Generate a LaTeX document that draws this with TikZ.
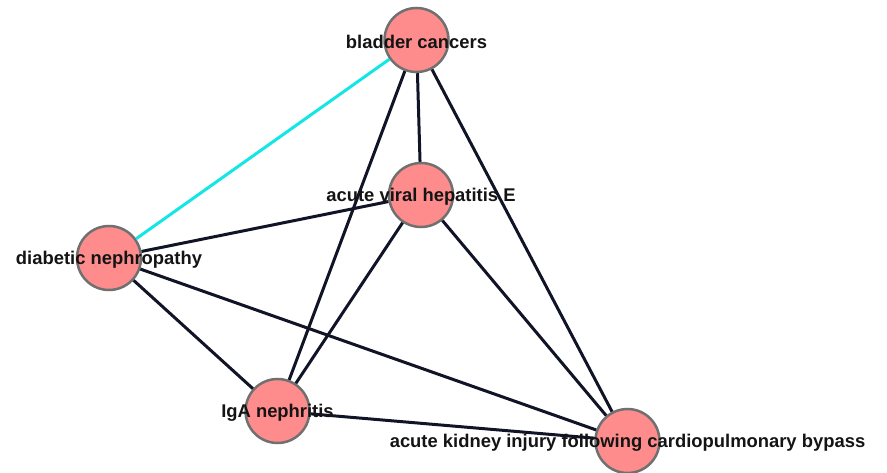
\documentclass[tikz,border=0pt]{standalone}
\usepackage{fontspec}
\setmainfont{Liberation Sans}
\usepackage{tikz}
\usetikzlibrary{shapes, positioning}
\definecolor{nodofill}{RGB}{255,140,140}
\definecolor{nodoborde}{RGB}{112,112,112}
\definecolor{arista}{RGB}{17,20,38}
\definecolor{aristacian}{RGB}{20,230,230}
\tikzstyle{enfermedad} = [circle, draw=nodoborde, fill=nodofill, line width=2.5pt, minimum size=64pt, inner sep=0pt]
\tikzstyle{etiqueta} = [font=\fontsize{18.4}{20}\selectfont\bfseries, text=black!92, inner sep=0pt, yshift=-2pt]
\tikzstyle{relacion} = [draw=arista, line width=3pt]
\tikzstyle{relacioncian} = [draw=aristacian, line width=3pt]

\begin{document}
\begin{tikzpicture}[x=1pt, y=-1pt]
	\useasboundingbox (0,0) rectangle (887,473);
	% nodos
	\node[enfermedad] (vejiga) at (416.5,40) {};
	\node[enfermedad] (hepatitis) at (421,195) {};
	\node[enfermedad] (diabetica) at (109,258) {};
	\node[enfermedad] (iga) at (277.5,411) {};
	\node[enfermedad] (renal) at (627.5,441) {};
	% aristas
	\draw[relacioncian] (vejiga) -- (diabetica);
	\draw[relacion] (vejiga) -- (hepatitis);
	\draw[relacion] (vejiga) -- (iga);
	\draw[relacion] (vejiga) -- (renal);
	\draw[relacion] (hepatitis) -- (diabetica);
	\draw[relacion] (hepatitis) -- (iga);
	\draw[relacion] (hepatitis) -- (renal);
	\draw[relacion] (diabetica) -- (iga);
	\draw[relacion] (diabetica) -- (renal);
	\draw[relacion] (iga) -- (renal);
	% etiquetas
	\node[etiqueta] at (vejiga) {bladder cancers};
	\node[etiqueta] at (hepatitis) {acute viral hepatitis E};
	\node[etiqueta] at (diabetica) {diabetic nephropathy};
	\node[etiqueta] at (iga) {IgA nephritis};
	\node[etiqueta] at (renal) {acute kidney injury following cardiopulmonary bypass};
\end{tikzpicture}
\end{document}
